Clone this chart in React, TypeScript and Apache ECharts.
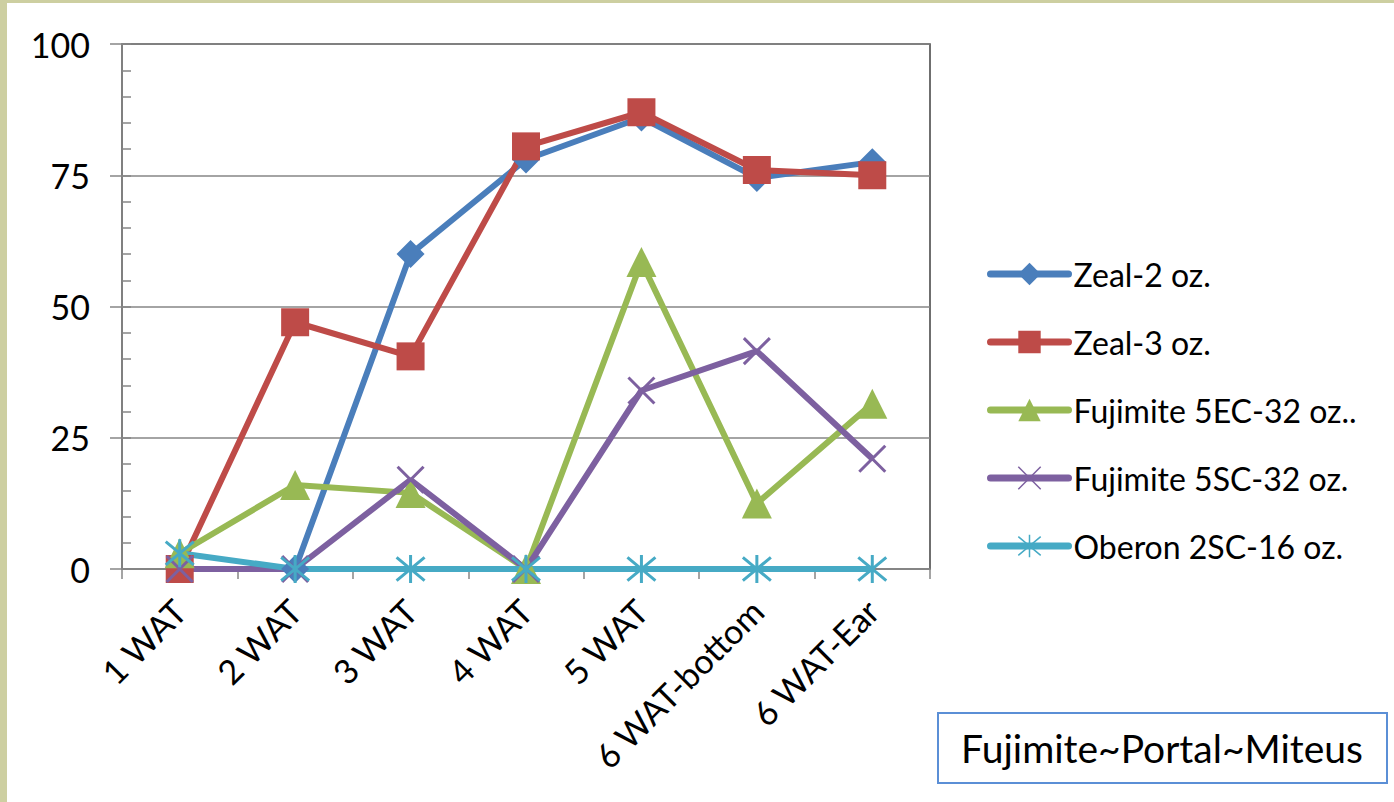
import React, { useEffect, useRef } from "react";
import * as echarts from "echarts";

const categories = ["1 WAT", "2 WAT", "3 WAT", "4 WAT", "5 WAT", "6 WAT-bottom", "6 WAT-Ear"];
const zeal2 = [0, 0, 60, 78, 86, 74.5, 77.5];
const zeal3 = [0, 47, 40.5, 80.5, 87, 76, 75];
const fuji5EC = [3, 16, 14.5, 0, 58.5, 12.5, 31.5];
const fuji5SC = [0, 0, 17, 0, 34, 41.5, 21];
const oberon = [3, 0, 0, 0, 0, 0, 0];
const seriesNames = ["Zeal-2 oz.", "Zeal-3 oz.", "Fujimite 5EC-32 oz..", "Fujimite 5SC-32 oz.", "Oberon 2SC-16 oz."];
const seriesColors = ["#4a7ebb", "#be4b48", "#98b954", "#7d60a0", "#46aac5"];
const yTicks = { min: 0, max: 100, interval: 25 };

const FONT = "Lato, 'Liberation Sans', sans-serif";
const X_PATH = "path://M0,0L10,10M10,0L0,10";
const STAR_PATH = "path://M0,0L10,10M10,0L0,10M5,-1L5,11";

export default function App() {
  const ref = useRef<HTMLDivElement>(null);
  useEffect(() => {
    if (!ref.current) return;
    const chart = echarts.init(ref.current, null, { renderer: "svg" });
    const data = [zeal2, zeal3, fuji5EC, fuji5SC, oberon];
    const symbols = ["diamond", "rect", "triangle", X_PATH, STAR_PATH];
    const sizes = [28, 28, 30, 26, 28];
    const series = data.map((d, i) => {
      const stroked = i >= 3;
      return {
        name: seriesNames[i],
        type: "line",
        data: d,
        symbol: symbols[i],
        symbolSize: sizes[i],
        showAllSymbol: true,
        lineStyle: { color: seriesColors[i], width: 6 },
        itemStyle: stroked
          ? { color: "rgba(0,0,0,0)", borderColor: seriesColors[i], borderWidth: 3 }
          : { color: seriesColors[i], borderWidth: 0 },
        emphasis: { disabled: true },
      };
    });
    chart.setOption({
      animation: false,
      backgroundColor: "#ffffff",
      textStyle: { fontFamily: FONT },
      grid: {
        left: 122,
        top: 44,
        width: 808,
        height: 525,
        show: true,
        borderColor: "#404040",
        borderWidth: 1.5,
        backgroundColor: "transparent",
      },
      legend: {
        orient: "vertical",
        left: 982,
        top: 252,
        itemWidth: 78,
        itemHeight: 28,
        itemGap: 34,
        data: seriesNames,
        lineStyle: { width: 7, cap: "round" },
        itemStyle: { borderWidth: 1.5 },
        textStyle: { fontFamily: FONT, fontSize: 32, color: "#000", lineHeight: 34 },
      },
      xAxis: {
        type: "category",
        data: categories,
        boundaryGap: true,
        axisLine: { lineStyle: { color: "#868686", width: 1.5 } },
        axisTick: { show: true, length: 10, lineStyle: { color: "#868686", width: 1.5 } },
        axisLabel: {
          interval: 0,
          rotate: 45,
          margin: 36,
          fontFamily: FONT,
          fontSize: 34,
          color: "#000",
        },
        splitLine: { show: false },
      },
      yAxis: [
        {
          type: "value",
          min: yTicks.min,
          max: yTicks.max,
          interval: yTicks.interval,
          axisLine: { show: true, lineStyle: { color: "#868686", width: 1.5 } },
          axisTick: { show: true, length: 12, lineStyle: { color: "#868686", width: 1.5 } },
          axisLabel: { margin: 32, fontFamily: FONT, fontSize: 34, color: "#000" },
          splitLine: { show: true, lineStyle: { color: "#868686", width: 1.5 } },
        },
        {
          type: "value",
          position: "left",
          offset: 0,
          min: 0,
          max: 100,
          interval: 5,
          axisLine: { show: false },
          axisTick: { show: true, inside: true, length: 9, lineStyle: { color: "#868686", width: 1.5 } },
          axisLabel: { show: false },
          splitLine: { show: false },
        },
      ],
      series,
      graphic: [
        { type: "rect", shape: { x: 0, y: 0, width: 7, height: 802 }, style: { fill: "#cdcfa1" }, silent: true },
        { type: "rect", shape: { x: 0, y: 0, width: 1394, height: 3 }, style: { fill: "#cdcfa1" }, silent: true },
        {
          type: "rect",
          shape: { x: 938, y: 713, width: 449, height: 70 },
          style: { fill: "#ffffff", stroke: "#5b8fd6", lineWidth: 2 },
          silent: true,
        },
        {
          type: "text",
          x: 1162,
          y: 748,
          style: {
            text: "Fujimite~Portal~Miteus",
            fontFamily: FONT,
            fontSize: 39,
            fill: "#000",
            align: "center",
            verticalAlign: "middle",
          },
          silent: true,
        },
      ],
    });
    return () => chart.dispose();
  }, []);
  return (
    <div
      ref={ref}
      style={{ position: "absolute", left: 0, top: 0, width: 1394, height: 802 }}
    />
  );
}
